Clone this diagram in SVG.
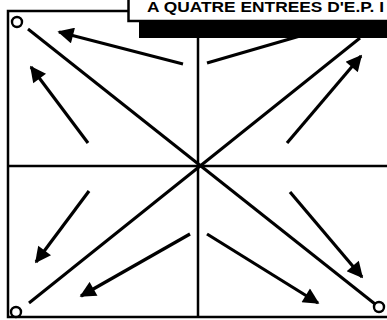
<svg xmlns="http://www.w3.org/2000/svg" width="387" height="320" viewBox="0 0 387 320">
<style>
.ln{stroke:#000;stroke-width:3;fill:none;stroke-linecap:butt}
.fr{stroke:#000;stroke-width:2.5;fill:none}
.ci{stroke:#000;stroke-width:2.4;fill:#fff}
.ar{stroke:#000;stroke-width:3.2;fill:none}
.ttl{font-family:"Liberation Sans",Arial,sans-serif;font-weight:bold;font-size:14px;fill:#000}
</style>
<defs>
<marker id="ah" viewBox="0 0 10 10" refX="9" refY="5" markerWidth="5.5" markerHeight="5" orient="auto" markerUnits="strokeWidth">
<path d="M0,0 L10,5 L0,10 Z" fill="#000"/>
</marker>
</defs>
<rect width="387" height="320" fill="#fff"/>
<g id="frame">
<path class="fr" d="M128,11 H8 V317 H387"/>
<line class="fr" x1="198" y1="36" x2="198" y2="317"/>
<line class="fr" x1="8" y1="166" x2="387" y2="166"/>
</g>
<g id="diagonals">
<line class="ln" x1="28" y1="29" x2="375" y2="304"/>
<line class="ln" x1="29" y1="303" x2="360" y2="38"/>
<circle class="ci" cx="17" cy="22" r="5"/>
<circle class="ci" cx="16" cy="312" r="5"/>
<circle class="ci" cx="379" cy="307" r="5"/>
</g>
<g id="connectors">
<line class="ar" x1="183" y1="64" x2="59" y2="32" marker-end="url(#ah)"/>
<line class="ar" x1="207" y1="63" x2="300" y2="36"/>
<line class="ar" x1="88" y1="143" x2="31" y2="67" marker-end="url(#ah)"/>
<line class="ar" x1="287" y1="143" x2="361" y2="56" marker-end="url(#ah)"/>
<line class="ar" x1="89" y1="191" x2="36" y2="262" marker-end="url(#ah)"/>
<line class="ar" x1="290" y1="192" x2="362" y2="277" marker-end="url(#ah)"/>
<line class="ar" x1="190" y1="234" x2="81" y2="296" marker-end="url(#ah)"/>
<line class="ar" x1="207" y1="234" x2="318" y2="303" marker-end="url(#ah)"/>
</g>
<g id="title">
<rect x="139" y="21" width="260" height="17" fill="#000"/>
<rect x="128.5" y="-10" width="270" height="31" fill="#fff" stroke="#000" stroke-width="2.5"/>
<text class="ttl" x="147" y="12" textLength="237" lengthAdjust="spacingAndGlyphs">A QUATRE ENTREES D'E.P. I</text>
</g>
</svg>
